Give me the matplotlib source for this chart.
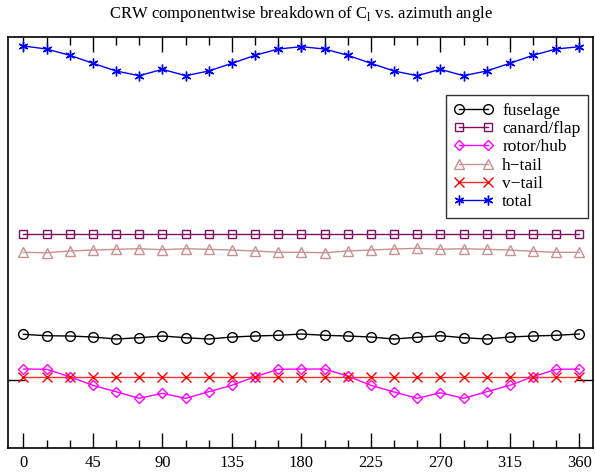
import matplotlib
matplotlib.use('Agg')
import matplotlib.pyplot as plt
from matplotlib.ticker import MultipleLocator, FixedLocator, NullFormatter

plt.rcParams['font.family'] = 'Liberation Serif'

# azimuth angle (deg)
azimuth = list(range(0, 361, 15))

# C_l contributions (arbitrary scale)
fuselage = [0.0457, 0.0443, 0.0440, 0.0430, 0.0410, 0.0423, 0.0440, 0.0423, 0.0410,
            0.0430, 0.0440, 0.0447, 0.0460, 0.0447, 0.0440, 0.0430, 0.0410, 0.0427,
            0.0443, 0.0423, 0.0410, 0.0430, 0.0440, 0.0447, 0.0460]
canard_flap = [0.1463] * 25
rotor_hub = [0.0110, 0.0107, 0.0033, -0.0053, -0.0117, -0.0183, -0.0133, -0.0183, -0.0117,
             -0.0053, 0.0033, 0.0107, 0.0110, 0.0110, 0.0040, -0.0053, -0.0120, -0.0183,
             -0.0127, -0.0183, -0.0117, -0.0053, 0.0033, 0.0107, 0.0110]
h_tail = [0.1277, 0.1273, 0.1290, 0.1300, 0.1307, 0.1313, 0.1303, 0.1313, 0.1307,
          0.1300, 0.1290, 0.1277, 0.1277, 0.1273, 0.1290, 0.1300, 0.1310, 0.1317,
          0.1307, 0.1313, 0.1307, 0.1300, 0.1287, 0.1277, 0.1277]
v_tail = [0.0027] * 25
total = [0.3340, 0.3310, 0.3247, 0.3167, 0.3090, 0.3043, 0.3107, 0.3043, 0.3090,
         0.3167, 0.3247, 0.3310, 0.3333, 0.3310, 0.3247, 0.3167, 0.3090, 0.3043,
         0.3107, 0.3043, 0.3090, 0.3167, 0.3247, 0.3310, 0.3333]

fig = plt.figure(figsize=(5.95, 4.72), dpi=100)
ax = fig.add_axes([0.0135, 0.0508, 0.9835, 0.8708])

lw = 1.0
ax.plot(azimuth, fuselage, color='black', lw=lw, marker='o', ms=7,
        mfc='none', mew=1.0, label='fuselage')
ax.plot(azimuth, canard_flap, color='#7f0f5f', lw=lw, marker='s', ms=6,
        mfc='none', mew=1.0, label='canard/flap')
ax.plot(azimuth, rotor_hub, color='#ff00ff', lw=lw, marker='D', ms=5.5,
        mfc='none', mew=1.0, label='rotor/hub')
ax.plot(azimuth, h_tail, color='#c89090', lw=lw, marker='^', ms=7,
        mfc='none', mew=1.0, label='h\u2212tail')
ax.plot(azimuth, v_tail, color='#ff3030', lw=lw, marker='x', ms=7,
        mec='red', mew=1.0, label='v\u2212tail')
ax.plot(azimuth, total, color='blue', lw=lw, marker=(6, 2, 0), ms=7,
        mew=1.0, label='total')

ax.set_xlim(-10, 369)
ax.set_ylim(-0.068, 0.343)

ax.xaxis.set_major_locator(MultipleLocator(45))
ax.xaxis.set_minor_locator(MultipleLocator(15))
ax.yaxis.set_major_locator(FixedLocator([0]))
ax.yaxis.set_major_formatter(NullFormatter())
ax.tick_params(axis='x', which='major', direction='in', length=11, width=1,
               top=True, labelsize=12, pad=5)
ax.tick_params(axis='x', which='minor', direction='in', length=6, width=1, top=True)
ax.tick_params(axis='y', which='major', direction='in', length=12, width=1,
               right=True)
for s in ax.spines.values():
    s.set_linewidth(1.2)

ax.set_title('CRW componentwise breakdown of C$_\\mathregular{l}$ vs. azimuth angle',
             fontsize=12, pad=14)

leg = ax.legend(loc='upper right', bbox_to_anchor=(0.9915, 0.859), numpoints=2,
                fontsize=12.5, frameon=True, fancybox=False, handlelength=2.3,
                labelspacing=0.12, borderpad=0.45, handletextpad=0.5,
                borderaxespad=0)
leg.get_frame().set_edgecolor('black')
leg.get_frame().set_linewidth(1.0)

fig.savefig('out.png', dpi=100)
